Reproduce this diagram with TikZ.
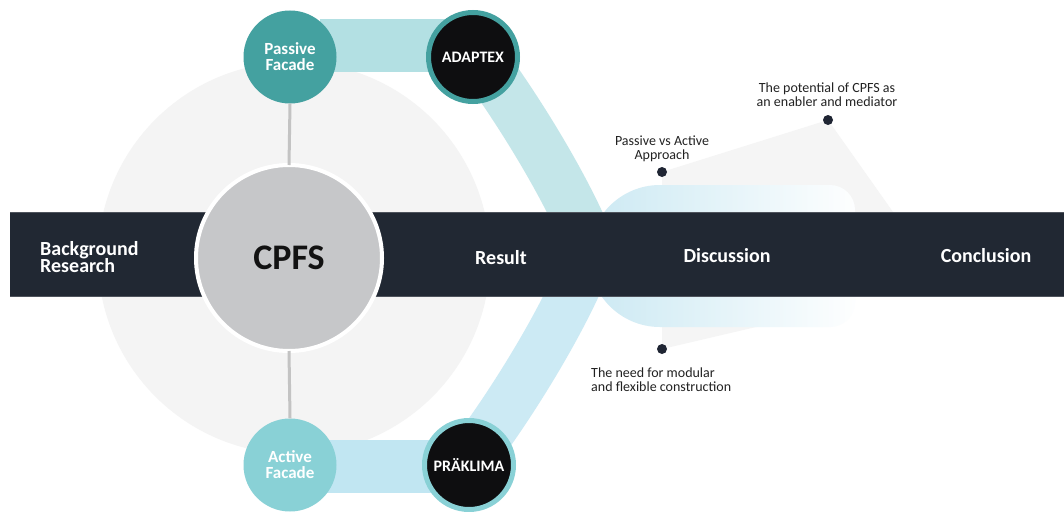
\documentclass[tikz,border=0pt]{standalone}
\usepackage{fontspec}
\setmainfont{Carlito}
\newcommand\tightlines{\lineskiplimit-30pt\relax}
\definecolor{barnavy}{HTML}{212833}
\definecolor{bgcircle}{HTML}{F4F4F4}
\definecolor{cpfsgray}{HTML}{C6C7C9}
\definecolor{tealdark}{HTML}{44A1A0}
\definecolor{teallight}{HTML}{89D1D6}
\definecolor{projfill}{HTML}{0E0E10}
\definecolor{bandupstraight}{HTML}{B3E0E3}
\definecolor{bandupcurve}{HTML}{C4E6E9}
\definecolor{banddownstraight}{HTML}{C1E6F2}
\definecolor{banddowncurve}{HTML}{CCEAF4}
\definecolor{blobleft}{HTML}{CCE9F3}
\definecolor{dotnavy}{HTML}{1F2533}
\definecolor{polygray}{HTML}{F5F5F5}
\definecolor{txtgray}{HTML}{222222}
\definecolor{linkgray}{HTML}{C3C3C3}
\begin{document}
\begin{tikzpicture}[x=1pt,y=-1pt,
  barlabel/.style={text=white,font=\fontsize{20}{17}\selectfont\bfseries\tightlines,inner sep=0pt},
  smalllabel/.style={text=txtgray,font=\fontsize{14}{14}\selectfont\tightlines,align=center,inner sep=0pt},
  facade/.style={circle,inner sep=0pt,minimum size=93pt,text=white,
    font=\fontsize{17}{16}\selectfont\bfseries\tightlines,align=center},
  project/.style={circle,inner sep=0pt,minimum size=89pt,line width=5pt,fill=projfill,
    text=white,font=\fontsize{16}{16}\selectfont\bfseries},
  dot/.style={circle,fill=dotnavy,inner sep=0pt,minimum size=10pt},
  band/.style={line width=50pt},
  straightband/.style={line width=53pt},
  link/.style={draw=linkgray,line width=3pt}]
\useasboundingbox (0,0) rectangle (1064,511);
\fill[white] (0,0) rectangle (1064,511);

% anchor points of the layout
\coordinate (pfc) at (290,57);
\coordinate (afc) at (290,465);
\coordinate (adc) at (473,57);
\coordinate (prc) at (469,465);
\coordinate (upstart) at (478,55);
\coordinate (upend) at (600,275);
\coordinate (downstart) at (474,454);
\coordinate (downend) at (596,234);

% large soft disc behind the hub
\fill[bgcircle] (294,258) circle[radius=196];

% ribbons linking the facades to the projects and on to the discussion
\draw[straightband,draw=bandupstraight] (320,45.5) -- (adc |- 0,45.5);
\draw[straightband,draw=banddownstraight] (320,466) -- (prc |- 0,466);
\draw[band,draw=bandupcurve] (upstart) .. controls (530,125) and (585,220) .. (upend);
\draw[band,draw=banddowncurve] (downstart) .. controls (526,384) and (581,289) .. (downend);

% faint wedges from the discussion points
\fill[polygray] (662,172) -- (828,120) -- (893,212) -- (662,212) -- cycle;
\fill[polygray] (662,349) -- (850,305) -- (850,297) -- (662,297) -- cycle;

% discussion bubble
\shade[left color=blobleft,right color=white!97!blobleft]
  (660,185) -- (830,185) .. controls (843.8,185) and (855,196.2) .. (855,210)
  -- (855,302) .. controls (855,315.8) and (843.8,327) .. (830,327)
  -- (660,327) .. controls (620.8,327) and (589,295.2) .. (589,256)
  .. controls (589,216.8) and (620.8,185) .. (660,185) -- cycle;

% timeline bar
\fill[barnavy] (10,212) rectangle (1064,297);
\draw[barnavy!80!white,line width=0.8pt] (10,212.4) -- (1064,212.4);
\draw[barnavy!80!white,line width=0.8pt] (10,296.6) -- (1064,296.6);

% hub and facade nodes
\node[facade,fill=tealdark] (pf) at (pfc) {Passive\\Facade};
\node[facade,fill=teallight] (af) at (afc) {Active\\Facade};
\node[circle,inner sep=0pt,minimum size=186pt,fill=cpfsgray,draw=white,line width=4pt,
  text=black!93,font=\fontsize{36}{36}\selectfont\bfseries] (cpfs) at (289,258) {CPFS};
\draw[link] (pf.south) -- ([yshift=-2pt]cpfs.north);
\draw[link] ([yshift=2pt]cpfs.south) -- (af.north);

% project nodes
\node[project,draw=tealdark] (adaptex) at (adc) {ADAPTEX};
\node[project,draw=teallight] (praklima) at (prc) {PRÄKLIMA};

% stages along the bar
\node[barlabel,anchor=west,align=left] (bg) at (40,257) {Background\\Research};
\node[barlabel] (result) at (501,258) {Result};
\node[barlabel] (discussion) at (727,256) {Discussion};
\node[barlabel] (conclusion) at (986,256) {Conclusion};

% discussion points
\node[dot] (d1) at (662,172) {};
\node[dot] (d2) at (828,120) {};
\node[dot] (d3) at (662,349) {};
\node[smalllabel] (t1) at (662,149) {Passive vs Active\\Approach};
\node[smalllabel] (t2) at (827,95) {The potential of CPFS as\\an enabler and mediator};
\node[smalllabel,align=left,anchor=west] (t3) at (591,380) {The need for modular\\and flexible construction};
\end{tikzpicture}
\end{document}
